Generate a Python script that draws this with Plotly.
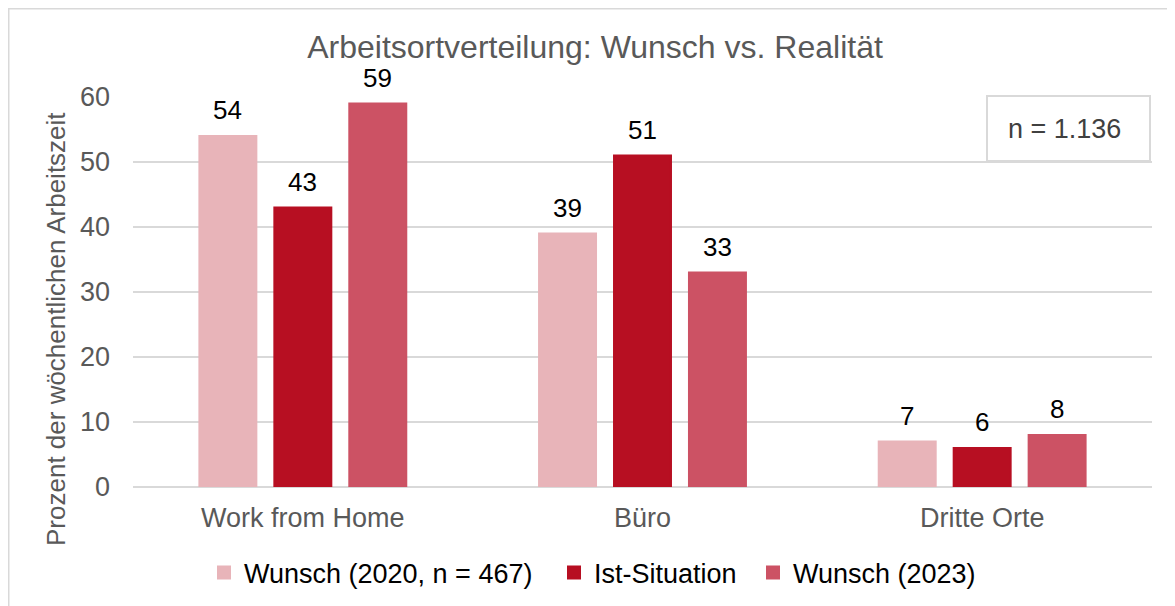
import plotly.graph_objects as go

categories = ["Work from Home", "Büro", "Dritte Orte"]
series_names = ["Wunsch (2020, n = 467)", "Ist-Situation", "Wunsch (2023)"]
wunsch_2020 = [54, 39, 7]
ist_situation = [43, 51, 6]
wunsch_2023 = [59, 33, 8]
y_ticks = [0, 10, 20, 30, 40, 50, 60]
sample_note = "n = 1.136"
title_text = "Arbeitsortverteilung: Wunsch vs. Realität"
y_title = "Prozent der wöchentlichen Arbeitszeit"

colors = ["#E8B4B9", "#B70F22", "#CC5264"]
series_values = [wunsch_2020, ist_situation, wunsch_2023]

FONT = "Liberation Sans, Arial, sans-serif"
OFF = 8  # page body margin
W, H = 1175 - OFF, 606 - OFF
ml, mr, mt = 125, 23, 89
mb = H - 479
pw = W - ml - mr
ph = H - mt - mb

def px_x(px):  # px: page coordinate
    return (px - OFF - ml) / pw

def px_y(py):
    return (H - mb - (py - OFF)) / ph

legend_names = ["legend", "legend2", "legend3"]
legend_text_start = [243, 593, 792]

fig = go.Figure()
for name, vals, col, lg in zip(series_names, series_values, colors, legend_names):
    fig.add_trace(go.Bar(
        x=categories, y=vals, name=name, legend=lg, showlegend=True,
        marker=dict(color=col, line=dict(width=2, color=col)),
        hoverinfo="skip",
    ))

annotations = []
slot = 75
for i, vals in enumerate(series_values):
    for cat, v in zip(categories, vals):
        annotations.append(dict(
            x=cat, y=v, xref="x", yref="y", text=str(v), showarrow=False,
            xshift=(i - 1) * slot, yshift=9, yanchor="bottom",
            font=dict(family=FONT, size=26, color="#000000"),
        ))

annotations.append(dict(
    x=px_x(56), y=px_y(329), xref="paper", yref="paper", text=y_title,
    textangle=-90, showarrow=False, xanchor="center", yanchor="middle",
    font=dict(family=FONT, size=26, color="#595959"),
))
annotations.append(dict(
    x=px_x(1064), y=px_y(129), xref="paper", yref="paper", text=sample_note,
    showarrow=False, xanchor="center", yanchor="middle",
    font=dict(family=FONT, size=27, color="#404040"),
))

shapes = [
    dict(type="rect", xref="paper", yref="paper",
         x0=px_x(987), x1=px_x(1150), y0=px_y(161), y1=px_y(96),
         line=dict(color="#D9D9D9", width=2), fillcolor="white", layer="above"),
    dict(type="rect", xref="paper", yref="paper",
         x0=px_x(OFF + 0.75), x1=px_x(1200), y0=px_y(640), y1=px_y(OFF + 0.75),
         line=dict(color="#D9D9D9", width=1.5), fillcolor="rgba(0,0,0,0)", layer="below"),
]

legend_common = dict(orientation="h", xanchor="left", yanchor="middle",
                     y=px_y(573), font=dict(family=FONT, size=27, color="#000000"),
                     itemwidth=30, bgcolor="rgba(0,0,0,0)", visible=True)
legends = {}
for lg, ts in zip(legend_names, legend_text_start):
    legends[lg] = dict(legend_common, x=px_x(ts - 39))

fig.update_layout(
    width=W, height=H, showlegend=True,
    margin=dict(l=ml, r=mr, t=mt, b=mb, autoexpand=False),
    paper_bgcolor="white", plot_bgcolor="white",
    barmode="group", bargap=0.338, bargroupgap=0.24,
    title=dict(text=title_text, x=(595 - OFF) / W, xref="container", xanchor="center",
               y=1 - (47 - OFF) / H, yref="container", yanchor="middle",
               font=dict(family=FONT, size=32, color="#595959")),
    xaxis=dict(showgrid=False, showline=False, zeroline=False,
               tickfont=dict(family=FONT, size=27, color="#595959"),
               ticklabelstandoff=12, fixedrange=True),
    yaxis=dict(range=[0, 60], tickvals=y_ticks, showgrid=True,
               gridcolor="#D9D9D9", gridwidth=1.5, zeroline=True,
               zerolinecolor="#D9D9D9", zerolinewidth=1.5, showline=False,
               tickfont=dict(family=FONT, size=27, color="#595959"),
               ticklabelstandoff=22, fixedrange=True),
    annotations=annotations,
    shapes=shapes,
    font=dict(family=FONT),
    **legends,
)

fig.write_html("out.html")
